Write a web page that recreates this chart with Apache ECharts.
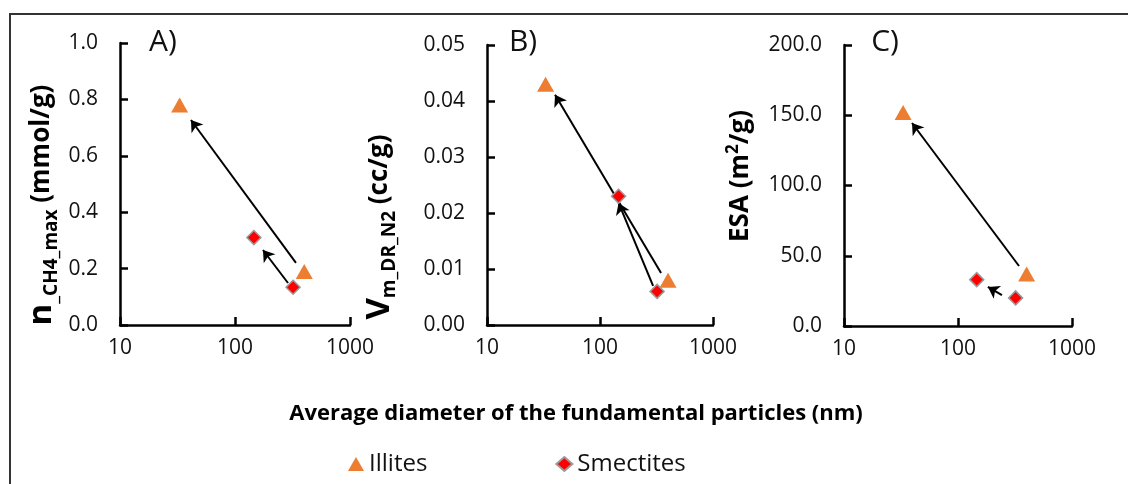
<!DOCTYPE html>
<html>
<head>
<meta charset="utf-8">
<script src="https://cdn.jsdelivr.net/npm/echarts@6/dist/echarts.min.js"></script>
<style>
  html, body { margin: 0; padding: 0; background: #fff; }
  #chart { width: 1128px; height: 484px; }
</style>
</head>
<body>
<div id="chart"></div>
<script>
// 颗粒直径 (nm)
const illiteDiam = [33, 400]
const smectiteDiam = [146, 320]

// 三个面板的数值
const illiteA = [0.78, 0.19]
const smectiteA = [0.31, 0.134]
const illiteB = [0.043, 0.008]
const smectiteB = [0.023, 0.006]
const illiteC = [152, 37]
const smectiteC = [33, 20]

// 箭头 [起点, 终点] (数据单位)
const arrowsA = [[[339, 0.22], [41.4, 0.727]], [[289, 0.149], [175, 0.266]]]
const arrowsB = [[[347, 0.0093], [40, 0.0411]], [[295, 0.007], [146, 0.0218]]]
const arrowsC = [[[343, 42.7], [39.5, 144.5]], [[243, 22], [183, 27.8]]]

const xTicks = [10, 100, 1000]
const yMaxes = [1, 0.05, 200]
const yIntervals = [0.2, 0.01, 50]
const yDecimals = [1, 2, 1]

const FONT = 'Open Sans'
const ORANGE = '#ED7D31'

const chart = echarts.init(document.getElementById('chart'), null, { renderer: 'canvas' })

const grids = [
  { left: 120, top: 43, width: 230, height: 282 },
  { left: 487, top: 45, width: 226, height: 280 },
  { left: 844, top: 45, width: 228, height: 281 },
]

function pair(xs, ys) {
  return xs.map((x, i) => [x, ys[i]])
}

const xAxis = grids.map((g, i) => ({
  type: 'log', logBase: 10, min: xTicks[0], max: xTicks[xTicks.length - 1],
  gridIndex: i,
  axisLine: { lineStyle: { color: '#000', width: 2.5 } },
  axisTick: { inside: true, length: 8, lineStyle: { color: '#000', width: 2.5 } },
  splitLine: { show: false },
  minorTick: { show: false },
  axisLabel: { color: '#111', fontFamily: FONT, fontSize: 21, margin: 13, formatter: v => String(Math.round(v)) },
}))

const yAxis = grids.map((g, i) => ({
  type: 'value', min: 0, max: yMaxes[i], interval: yIntervals[i],
  gridIndex: i,
  axisLine: { show: true, lineStyle: { color: '#000', width: 2.5 } },
  axisTick: { show: true, inside: true, length: 8, lineStyle: { color: '#000', width: 2.5 } },
  splitLine: { show: false },
  axisLabel: {
    color: '#111', fontFamily: FONT, fontSize: 21, margin: 22,
    formatter: v => v.toFixed(yDecimals[i])
  },
}))

const illites = [illiteA, illiteB, illiteC]
const smectites = [smectiteA, smectiteB, smectiteC]
const arrows = [arrowsA, arrowsB, arrowsC]

const series = []
for (let i = 0; i < 3; i++) {
  series.push({
    type: 'lines', coordinateSystem: 'cartesian2d', xAxisIndex: i, yAxisIndex: i,
    polyline: false, silent: true,
    symbol: ['none', 'arrow'], symbolSize: [0, 11],
    lineStyle: { color: '#000', width: 2, opacity: 1 },
    data: arrows[i].map(a => ({ coords: a })),
    z: 1,
  })
  series.push({
    name: 'Illites', type: 'scatter', xAxisIndex: i, yAxisIndex: i,
    symbol: 'triangle', symbolSize: [17, 15],
    itemStyle: { color: ORANGE, opacity: 1 },
    data: pair(illiteDiam, illites[i]),
    z: 3,
  })
  series.push({
    name: 'Smectites', type: 'scatter', xAxisIndex: i, yAxisIndex: i,
    symbol: 'diamond', symbolSize: 14,
    itemStyle: { color: '#FF0000', borderColor: '#9a9a9a', borderWidth: 1.5, opacity: 1 },
    data: pair(smectiteDiam, smectites[i]),
    z: 3,
  })
}

const nameRich = {
  big: { fontFamily: FONT, fontWeight: 'bold', fontSize: 33, lineHeight: 44, fill: '#000' },
  sub: { fontFamily: FONT, fontWeight: 'bold', fontSize: 19, lineHeight: 19, padding: [20, 0, 0, 0], fill: '#000' },
  mid: { fontFamily: FONT, fontWeight: 'bold', fontSize: 26, lineHeight: 44, fill: '#000' },
  sup: { fontFamily: FONT, fontWeight: 'bold', fontSize: 17, lineHeight: 17, padding: [0, 0, 16, 0], fill: '#000' },
}

function yName(x, y, text) {
  return {
    type: 'text', x: x, y: y, rotation: Math.PI / 2,
    style: { text: text, rich: nameRich, align: 'center', verticalAlign: 'middle' },
  }
}

function panelLabel(x, y, text) {
  return {
    type: 'text', x: x, y: y,
    style: { text: text, fontFamily: FONT, fontSize: 30, fill: '#111', align: 'center', verticalAlign: 'middle' },
  }
}

const option = {
  backgroundColor: '#fff',
  animation: false,
  grid: grids,
  xAxis: xAxis,
  yAxis: yAxis,
  series: series,
  legend: {
    left: 343, top: 447,
    itemWidth: 16, itemHeight: 14, itemGap: 128,
    textStyle: { fontFamily: FONT, fontSize: 24, color: '#111' },
    data: [{ name: 'Illites', icon: 'triangle' }, { name: 'Smectites', icon: 'diamond' }],
  },
  graphic: [
    {
      type: 'rect', shape: { x: 10, y: 14, width: 1140, height: 500 },
      style: { fill: null, stroke: '#333', lineWidth: 2 }, silent: true,
    },
    yName(42, 205, '{big|n}{sub|_CH4_max}{mid| (mmol/g)}'),
    yName(380, 227, '{big|V}{sub|m_DR_N2}{mid| (cc/g)}'),
    yName(741, 176, '{mid|ESA (m}{sup|2}{mid|/g)}'),
    panelLabel(163, 42, 'A)'),
    panelLabel(523, 42, 'B)'),
    panelLabel(885, 42, 'C)'),
    {
      type: 'text', x: 576, y: 414,
      style: {
        text: 'Average diameter of the fundamental particles (nm)',
        fontFamily: FONT, fontWeight: 'bold', fontSize: 22, fill: '#000',
        align: 'center', verticalAlign: 'middle'
      },
    },
  ],
}

chart.setOption(option)
</script>
</body>
</html>
